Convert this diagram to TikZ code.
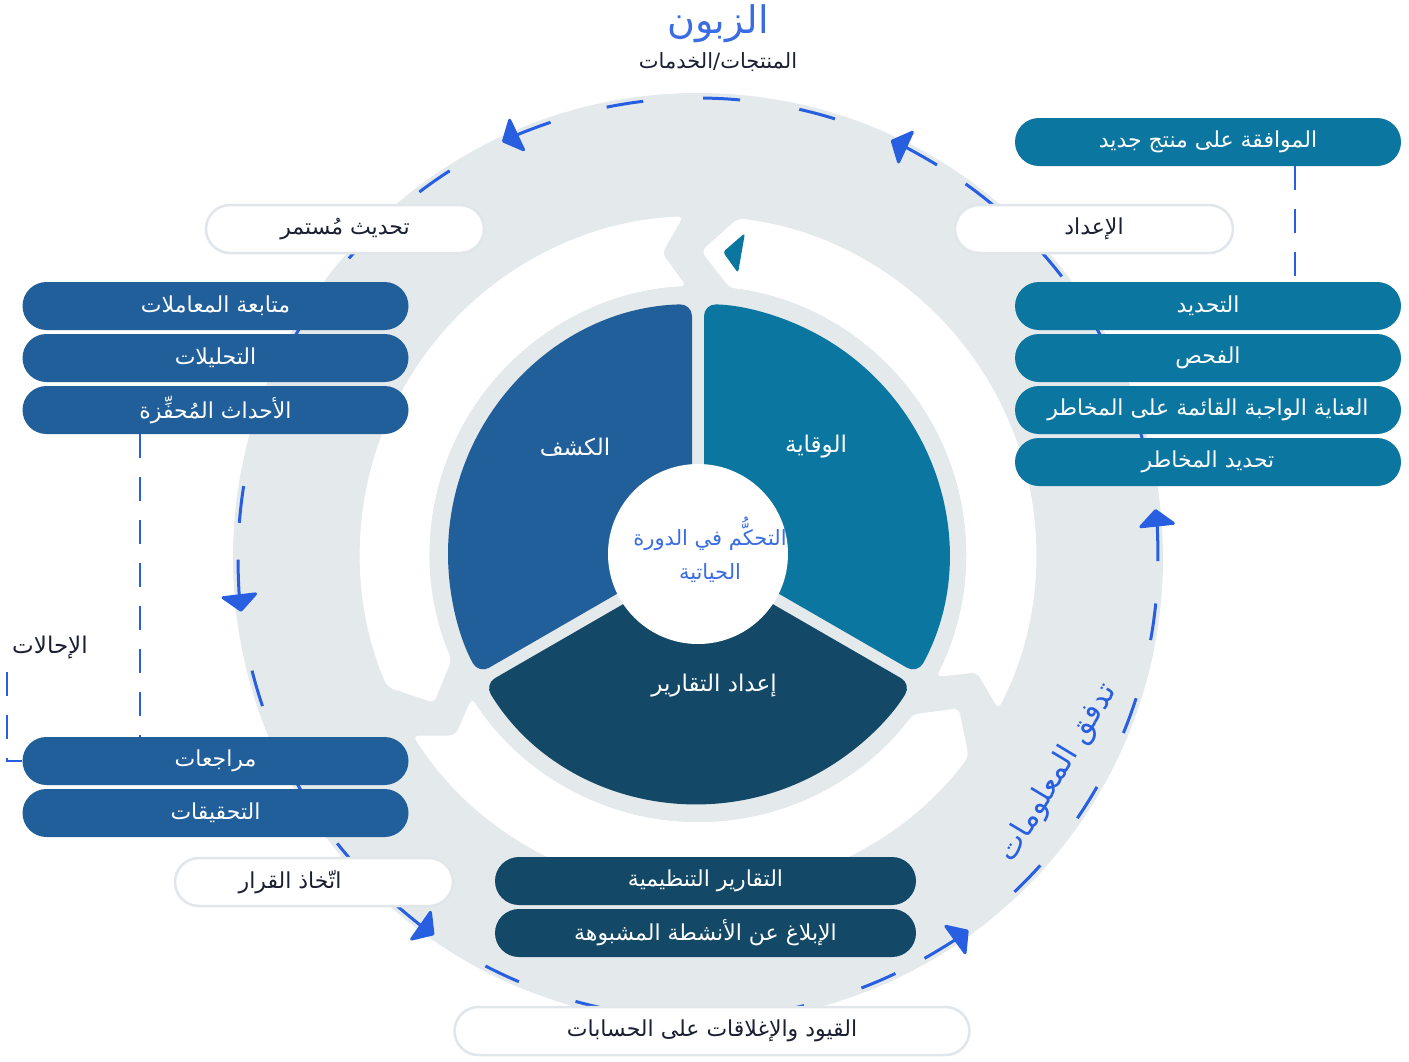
\documentclass[tikz,border=0pt]{standalone}
\usepackage{fontspec}
\usetikzlibrary{arrows.meta,calc}
\newfontfamily\arabicfont[Script=Arabic]{DejaVu Sans}
\TeXXeTstate=1
\newcommand\artxt[1]{\beginR #1\endR}
\definecolor{bgray}{HTML}{E4E9EC}
\definecolor{lblue}{HTML}{215F9A}
\definecolor{lteal}{HTML}{0B76A0}
\definecolor{ldark}{HTML}{134866}
\definecolor{flowblue}{HTML}{285EE0}
\definecolor{titleblue}{HTML}{3A6DE4}
\definecolor{txtdark}{HTML}{1B1F33}
\definecolor{boxline}{HTML}{E0E6E9}
\tikzset{
  pill/.style={rectangle, rounded corners=24pt, minimum width=386pt, minimum height=48pt, inner sep=0pt, text=white, font=\arabicfont\fontsize{22}{26}\selectfont},
  pillL/.style={pill, fill=lblue},
  pillR/.style={pill, fill=lteal},
  pillB/.style={pill, fill=ldark, minimum width=421pt},
  lbl/.style={rectangle, rounded corners=24pt, minimum width=278pt, minimum height=48pt, inner sep=0pt, fill=white, draw=boxline, line width=2.5pt, text=txtdark, font=\arabicfont\fontsize{22}{26}\selectfont},
  flowline/.style={draw=flowblue, line width=3pt},
  flowdash/.style={flowline, dash pattern=on 37pt off 60pt, dash phase=37pt},
  flowarr/.style={flowline, -{Triangle[width=40pt,length=18pt,round]}},
  conn/.style={draw=flowblue, line width=2.5pt, dash pattern=on 24pt off 19pt},
  seclbl/.style={text=white, font=\arabicfont\fontsize{23}{27}\selectfont},
  plain/.style={text=txtdark, font=\arabicfont\fontsize{22}{26}\selectfont},
}
\begin{document}
\begin{tikzpicture}[x=1pt,y=-1pt]
\useasboundingbox (0,0) rectangle (1409,1061);
\fill[white] (0,0) rectangle (1409,1061);

% outer ring and flow circle
\begin{scope}[shift={(698,558)}, yscale=-1]
  \fill[bgray] (0,0) circle[radius=465];
  \draw[flowdash] (6.1:460) arc[start angle=6.1, end angle=58.7, radius=460];
  \draw[flowdash] (65.2:460) arc[start angle=65.2, end angle=108.7, radius=460];
  \draw[flowdash] (115.2:460) arc[start angle=115.2, end angle=180.2, radius=460];
  \draw[flowdash] (186.7:460) arc[start angle=186.7, end angle=228.5, radius=460];
  \draw[flowdash] (235:460) arc[start angle=235, end angle=299.5, radius=460];
  \draw[flowdash] (306:460) arc[start angle=306, end angle=359.6, radius=460];
  \draw[flowarr] (-0.4:460) arc[start angle=-0.4, end angle=6.1, radius=460];
  \draw[flowarr] (58.7:460) arc[start angle=58.7, end angle=65.2, radius=460];
  \draw[flowarr] (108.7:460) arc[start angle=108.7, end angle=115.2, radius=460];
  \draw[flowarr] (180.2:460) arc[start angle=180.2, end angle=186.7, radius=460];
  \draw[flowarr] (228.5:460) arc[start angle=228.5, end angle=235, radius=460];
  \draw[flowarr] (299.5:460) arc[start angle=299.5, end angle=306, radius=460];
\end{scope}

% inner white chevron ring, sectors, hub
\begin{scope}[shift={(698,554)}, yscale=-1]
  \fill[white, rounded corners=6pt] (-27.3:338) arc[start angle=-27.3, end angle=83.2, radius=338] -- (89.4:303) -- (83.2:268) arc[start angle=83.2, end angle=-27.3, radius=268] -- (-23.0:303) -- cycle;
  \fill[white, rounded corners=6pt] (92.5:338) arc[start angle=92.5, end angle=203.2, radius=338] -- (209.4:303) -- (203.2:268) arc[start angle=203.2, end angle=92.5, radius=268] -- (96.8:303) -- cycle;
  \fill[white, rounded corners=6pt] (212.5:338) arc[start angle=212.5, end angle=323.2, radius=338] -- (329.4:303) -- (323.2:268) arc[start angle=323.2, end angle=212.5, radius=268] -- (216.8:303) -- cycle;
  \fill[bgray] (0,0) circle[radius=268];
  \fill[lblue, rounded corners=12pt] (150:6.93) -- (91.375:250) arc[start angle=91.375, end angle=208.625, radius=250] -- cycle;
  \fill[lteal, rounded corners=12pt] (30:6.93) -- (-28.625:250) arc[start angle=-28.625, end angle=88.625, radius=250] -- cycle;
  \fill[ldark, rounded corners=12pt] (270:6.93) -- (211.375:250) arc[start angle=211.375, end angle=328.625, radius=250] -- cycle;
  \fill[white] (0,0) circle[radius=90];
\end{scope}
\fill[lteal, rounded corners=3pt] (745,233) -- (723,252) -- (738,273) -- cycle;

% titles
\node[text=titleblue, font=\arabicfont\fontsize{38}{44}\selectfont] (cust) at (718,24) {\artxt{الزبون}};
\node[plain, font=\arabicfont\fontsize{21}{25}\selectfont] (prod) at (718,62) {\artxt{المنتجات/الخدمات}};

% sector labels and hub
\node[seclbl] (detect) at (575,447) {\artxt{الكشف}};
\node[seclbl] (prevent) at (816,447) {\artxt{الوقاية}};
\node[seclbl] (report) at (714,686) {\artxt{إعداد التقارير}};
\node[text=titleblue, align=center, font=\arabicfont\fontsize{21}{34}\selectfont] (hub) at (710,550) {\artxt{التحكُّم في الدورة}\\\artxt{الحياتية}};

% flow text
\node[text=flowblue, rotate=59, font=\arabicfont\fontsize{30}{34}\selectfont] (flow) at (1058,773) {\artxt{تدفق المعلومات}};

% stage labels
\node[lbl] (update) at (345,229) {\artxt{تحديث مُستمر}};
\node[lbl] (onboard) at (1094,229) {\artxt{الإعداد}};
\node[lbl] (decide) at (314,882) {\artxt{اتّخاذ القرار}\hspace*{48pt}};
\node[lbl, minimum width=515pt] (limits) at (712,1031) {\artxt{القيود والإغلاقات على الحسابات}};

% right pills
\node[pillR] (approve) at (1208,142) {\artxt{الموافقة على منتج جديد}};
\node[pillR] (ident) at (1208,306) {\artxt{التحديد}};
\node[pillR] (screen) at (1208,358) {\artxt{الفحص}};
\node[pillR] (cdd) at (1208,410) {\artxt{العناية الواجبة القائمة على المخاطر}};
\node[pillR] (risk) at (1208,462) {\artxt{تحديد المخاطر}};

% left pills
\node[pillL] (monitor) at (215.5,306) {\artxt{متابعة المعاملات}};
\node[pillL] (analytics) at (215.5,358) {\artxt{التحليلات}};
\node[pillL] (trigger) at (215.5,410) {\artxt{الأحداث المُحفِّزة}};
\node[pillL] (reviews) at (215.5,761) {\artxt{مراجعات}};
\node[pillL] (investig) at (215.5,813) {\artxt{التحقيقات}};

% bottom pills
\node[pillB] (regrep) at (705.5,881) {\artxt{التقارير التنظيمية}};
\node[pillB] (sar) at (705.5,933) {\artxt{الإبلاغ عن الأنشطة المشبوهة}};

% referrals
\node[plain, font=\arabicfont\fontsize{23}{27}\selectfont] (refer) at (50,648) {\artxt{الإحالات}};

% dashed connectors
\coordinate (rx) at (1295,0);
\coordinate (lx) at (140,0);
\coordinate (rc) at (7,672);
\draw[conn] (approve.south -| rx) -- (ident.north -| rx);
\draw[conn] (trigger.south -| lx) -- (reviews.north -| lx);
\draw[conn] (rc) |- (reviews.west);
\end{tikzpicture}
\end{document}
